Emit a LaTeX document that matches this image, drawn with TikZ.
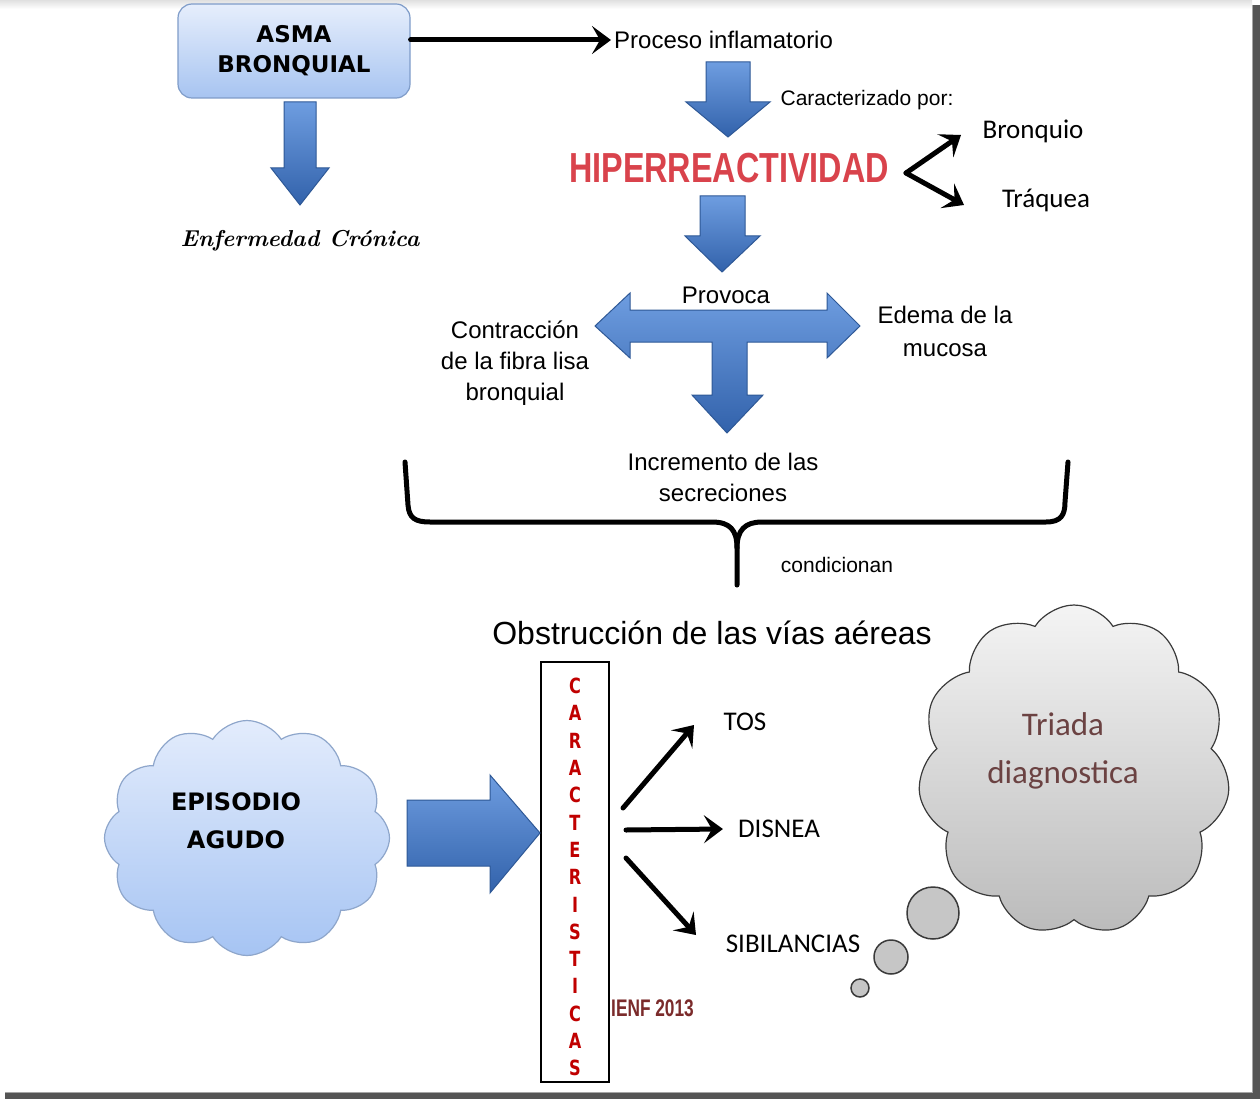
\documentclass[tikz,border=0pt]{standalone}
\usepackage{fontspec}
\newfontfamily\arial{Liberation Sans}
\newfontfamily\carlito{Carlito}
\newfontfamily\dejavu{DejaVu Sans}
\usetikzlibrary{arrows.meta,shapes.symbols}
\definecolor{boxtop}{HTML}{E6EEFC}
\definecolor{boxbot}{HTML}{A7C4F1}
\definecolor{boxedge}{HTML}{7F9CC9}
\definecolor{bartop}{HTML}{6E9DE0}
\definecolor{barbot}{HTML}{3262AB}
\definecolor{baredge}{HTML}{2E5896}
\definecolor{hiper}{HTML}{D9434C}
\definecolor{caractc}{HTML}{C00000}
\definecolor{ienf}{HTML}{7B2B2B}
\definecolor{triadac}{HTML}{6B4242}
\definecolor{cloudedge}{HTML}{3A3A3A}
\definecolor{graytop}{HTML}{F4F4F4}
\definecolor{graybot}{HTML}{BBBBBB}
\definecolor{bluecloudtop}{HTML}{E3ECFC}
\definecolor{bluecloudbot}{HTML}{A6C4F3}
\definecolor{bluecloudedge}{HTML}{8EA6CB}
\definecolor{framedark}{HTML}{555555}
\definecolor{bubble}{HTML}{C6C6C6}
\tikzset{
  blk/.style={-{Stealth[length=19pt,width=28pt,inset=8pt]}, line width=5pt, line cap=round, black},
  blockarrow/.style={draw=baredge, line width=1pt, top color=bartop, bottom color=barbot},
  txt/.style={font=\arial\fontsize{24}{31}\selectfont, align=center, inner sep=0pt},
  smalltxt/.style={font=\arial\fontsize{21}{26}\selectfont, align=center, inner sep=0pt},
  cal/.style={font=\carlito\fontsize{27}{32}\selectfont, inner sep=0pt},
  deco/.style={font=\dejavu\bfseries\fontsize{23}{30}\selectfont, align=center, inner sep=0pt},
  letter/.style={font=\dejavu\bfseries\fontsize{19}{22}\selectfont, text=caractc, inner sep=0pt},
  bubblestyle/.style={circle, draw=cloudedge, line width=1.5pt, fill=bubble, inner sep=0pt},
}
\begin{document}
\begin{tikzpicture}[x=1pt,y=-1pt]
\useasboundingbox (0,0) rectangle (1260,1099);
\fill[white] (0,0) rectangle (1260,1099);
% frame
\shade[top color=black!12, bottom color=white] (0,0) rectangle (1252,9);
\fill[framedark] (1252,5) rectangle (1260,1099);
\fill[framedark] (5,1093) rectangle (1260,1099);
\draw[black!35, line width=1pt] (1252.5,5) -- (1252.5,1093);
\draw[black!35, line width=1pt] (5,1092.5) -- (1252,1092.5);

% ASMA BRONQUIAL box
\node[draw=boxedge, line width=1.2pt, rounded corners=14pt, top color=boxtop, bottom color=boxbot,
      minimum width=232pt, minimum height=94pt, deco] (asma) at (294,51) {ASMA\\BRONQUIAL};
\node[txt, anchor=west] (proceso) at (614,40) {Proceso inflamatorio};
\draw[blk] (asma.east |- proceso.west) -- ([xshift=-3pt]proceso.west);

% down arrow from asma
\draw[blockarrow] (284,102) -- (316,102) -- (316,168) -- (329,168) -- (300,205) -- (271,168) -- (284,168) -- cycle;
\node[font=\bfseries\itshape\fontsize{23}{26}\selectfont, inner sep=0pt] (cronica) at (300,241) {Enfermedad Crónica};

% down arrow from proceso
\draw[blockarrow] (706,62) -- (750,62) -- (750,102) -- (770,102) -- (728,137) -- (686,102) -- (706,102) -- cycle;
\node[smalltxt] (caracterizado) at (867,100) {Caracterizado por:};

% HIPERREACTIVIDAD
\node[font=\arial\bfseries\fontsize{42}{44}\selectfont, text=hiper, inner sep=0pt] (hiperr) at (729,168) {\scalebox{0.77}[1]{HIPERREACTIVIDAD}};
\node[cal, anchor=center] (bronquio) at (1033,131) {Bronquio};
\node[cal, anchor=center] (traquea) at (1046,200) {Tráquea};
\coordinate (vtx) at (906,173);
\coordinate (bend) at (961,135);
\coordinate (tend) at (964,205);
\draw[blk] (vtx) -- (bend);
\draw[blk] (vtx) -- (tend);

% down arrow from HIPERREACTIVIDAD
\draw[blockarrow] (700,196) -- (745,196) -- (745,236) -- (760,236) -- (722,272) -- (685,236) -- (700,236) -- cycle;

% T arrow
\draw[blockarrow] (595,326) -- (630,293) -- (630,310) -- (827,310) -- (827,293) -- (860,326) -- (827,358) -- (827,342)
  -- (747,342) -- (747,395) -- (763,395) -- (727,433) -- (692,395) -- (712,395) -- (712,342) -- (630,342) -- (630,358) -- cycle;
\node[txt] (provoca) at (726,295) {Provoca};
\node[txt] (contraccion) at (515,363) {Contracción\\de la fibra lisa\\bronquial};
\node[txt, font=\arial\fontsize{24}{33}\selectfont] (edema) at (945,331) {Edema de la\\mucosa};
\node[txt] (incremento) at (723,477) {Incremento de las\\secreciones};

% brace
\draw[line width=5pt, line cap=round, line join=round]
  (405,462) -- (408,505) .. controls (409,518) and (415,522) .. (430,522) -- (712,522)
  .. controls (730,522) and (737,530) .. (737,548) -- (737,585);
\draw[line width=5pt, line cap=round, line join=round]
  (737,548) .. controls (737,530) and (745,522) .. (762,522) -- (1046,522)
  .. controls (1061,522) and (1065,515) .. (1065,502) -- (1068,462);
\node[smalltxt] (condicionan) at (837,565) {condicionan};
\node[font=\arial\fontsize{32}{36}\selectfont, inner sep=0pt] (obstruccion) at (712,633) {Obstrucción de las vías aéreas};

% CARACTERISTICAS box
\node[draw=black, line width=1.2pt, minimum width=68pt, minimum height=420pt, inner sep=0pt] (caract) at (575,872) {};
\foreach \l [count=\i from 0] in {C,A,R,A,C,T,E,R,I,S,T,I,C,A,S}
  \node[letter] (ch\i) at (575,{686+27.3*\i}) {\scalebox{0.85}[1.1]{\l}};
\node[font=\arial\bfseries\fontsize{24}{26}\selectfont, text=ienf, inner sep=0pt, anchor=west] (ienf) at (611,1008) {\scalebox{0.72}[1]{IENF 2013}};

% symptoms
\node[cal] (tos) at (745,722) {TOS};
\node[cal] (disnea) at (779,829) {DISNEA};
\node[cal] (sibilancias) at (793,944) {SIBILANCIAS};
\coordinate (s1) at (623,808);
\coordinate (s2) at (626,830);
\coordinate (s3) at (626,858);
\coordinate (e1) at (694,725);
\coordinate (e3) at (696,935);
\draw[blk] (s1) -- (e1);
\draw[blk] (s2) -- ([xshift=-15pt]disnea.west);
\draw[blk] (s3) -- (e3);

% EPISODIO AGUDO cloud
\node[cloud, cloud puffs=12, cloud puff arc=115, cloud ignores aspect, minimum width=285pt, minimum height=235pt,
      draw=bluecloudedge, line width=1.2pt, top color=bluecloudtop, bottom color=bluecloudbot] (epicloud) at (247,838) {};
\node[deco, font=\dejavu\bfseries\fontsize{24}{38}\selectfont] (episodio) at (236,821) {EPISODIO\\AGUDO};
\draw[blockarrow] (407,800) -- (490,800) -- (490,775) -- (540,833) -- (490,893) -- (490,866) -- (407,866) -- cycle;

% Triada diagnostica cloud
\node[cloud, cloud puffs=11, cloud puff arc=115, cloud ignores aspect, minimum width=312pt, minimum height=330pt,
      draw=cloudedge, line width=1.2pt, top color=graytop, bottom color=graybot] (triadacloud) at (1074,770) {};
\node[font=\carlito\fontsize{33}{48}\selectfont, text=triadac, align=center, inner sep=0pt] (triada) at (1063,751) {Triada\\diagnostica};
\node[bubblestyle, minimum size=52pt] (b1) at (933,913) {};
\node[bubblestyle, minimum size=34pt] (b2) at (891,957) {};
\node[bubblestyle, minimum size=18pt] (b3) at (860,988) {};
\end{tikzpicture}
\end{document}
